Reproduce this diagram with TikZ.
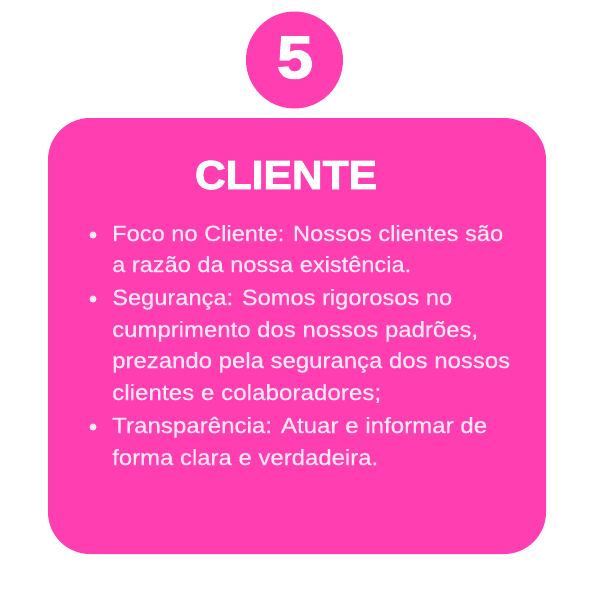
\documentclass[tikz,border=0pt]{standalone}
\usepackage{fontspec}
\setmainfont{Liberation Sans}
\newfontfamily\heavyfont[FakeBold=2.2]{Liberation Sans Bold}
\newfontfamily\bodyfont[FakeBold=0.4]{Liberation Sans}
\usepackage{graphicx}
\definecolor{cardpink}{RGB}{255,62,178}
\definecolor{bodytext}{RGB}{255,232,246}
\tikzset{
  card/.style={fill=cardpink, draw=none, rounded corners=42pt},
  badge/.style={circle, fill=cardpink, draw=none, minimum size=97pt, inner sep=0pt},
  bodyline/.style={anchor=base west, inner sep=0pt, text=bodytext, font=\bodyfont\fontsize{22}{26}\selectfont},
  bulletdot/.style={circle, fill=bodytext, draw=none, minimum size=7pt, inner sep=0pt},
}
\newcommand{\fitline}[2]{\resizebox{#1pt}{\height}{#2}}
\begin{document}
\begin{tikzpicture}[x=1pt,y=-1pt]
  \useasboundingbox (0,0) rectangle (600,600);
  \fill[white] (0,0) rectangle (600,600);
  % card
  \path[card] (48,118) rectangle (546,554);
  % badge
  \node[badge] (badge) at (294.5,60) {};
  \node[anchor=base, inner sep=0pt, text=white, font=\heavyfont\fontsize{60}{60}\selectfont] (num) at (295,78) {\fitline{36}{5}};
  % title
  \node[anchor=base, inner sep=0pt, text=white, font=\heavyfont\fontsize{40.5}{44}\selectfont] (title) at (286,189) {\fitline{182}{CLIENTE}};
  % bullets
  \node[bulletdot] (b1) at (93,235) {};
  \node[bulletdot] (b2) at (93,299) {};
  \node[bulletdot] (b3) at (93,427) {};
  % body lines
  \node[bodyline] (l1) at (112,241) {\fitline{391}{Foco no Cliente: Nossos clientes são}};
  \node[bodyline] (l2) at (112,272) {\fitline{299}{a razão da nossa existência.}};
  \node[bodyline] (l3) at (112,305) {\fitline{340}{Segurança: Somos rigorosos no}};
  \node[bodyline] (l4) at (112,337) {\fitline{366}{cumprimento dos nossos padrões,}};
  \node[bodyline] (l5) at (112,368) {\fitline{398}{prezando pela segurança dos nossos}};
  \node[bodyline] (l6) at (112,400) {\fitline{269}{clientes e colaboradores;}};
  \node[bodyline] (l7) at (112,433) {\fitline{375}{Transparência: Atuar e informar de}};
  \node[bodyline] (l8) at (112,465) {\fitline{266}{forma clara e verdadeira.}};
\end{tikzpicture}
\end{document}
